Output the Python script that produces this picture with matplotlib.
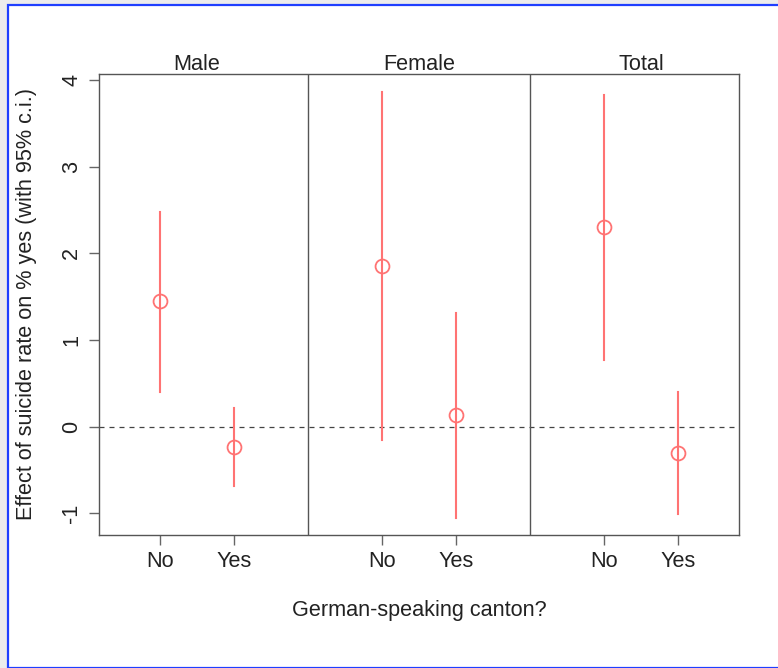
import matplotlib.pyplot as plt
from matplotlib.patches import Rectangle

plt.rcParams['font.family'] = ['Liberation Sans', 'DejaVu Sans']

groups = ['Male', 'Female', 'Total']
cantons = ['No', 'Yes']
x_pos = [1, 2, 4, 5, 7, 8]
estimates = [1.45, -0.23, 1.86, 0.14, 2.30, -0.30]
lower = [0.40, -0.68, -0.15, -1.05, 0.77, -1.01]
upper = [2.48, 0.21, 3.86, 1.31, 3.83, 0.40]
y_ticks = [-1, 0, 1, 2, 3, 4]

red = '#ff7373'
txt = '#222222'
fs = 15.6

fig = plt.figure(figsize=(7.78, 6.68), dpi=100)
fig.patch.set_facecolor('#ececec')
# screenshot frame
fig.patches.append(Rectangle((8 / 778, 0), 1, 1 - 5 / 668, transform=fig.transFigure,
                             facecolor='white', edgecolor='#1f3fff', linewidth=1.6, zorder=-10))

ax = fig.add_axes([99 / 778, 1 - 535 / 668, 640 / 778, 461 / 668])
ax.set_zorder(5)
ax.set_facecolor('white')

# dashed zero line
ax.axhline(0, color='#444444', linestyle=(0, (4, 4)), linewidth=0.9, zorder=1)

# panel dividers
for xd in [3, 6]:
    ax.axvline(xd, color='#555555', linewidth=1.0, zorder=1)

for x, est, lo, hi in zip(x_pos, estimates, lower, upper):
    ax.plot([x, x], [lo, hi], color=red, linewidth=1.5, zorder=2)
    ax.plot(x, est, marker='o', markersize=10, markerfacecolor='none',
            markeredgecolor=red, markeredgewidth=1.3, zorder=3)

for i, g in enumerate(groups):
    ax.annotate(g, xy=(1.5 + 3 * i, 1), xycoords=('data', 'axes fraction'),
                xytext=(0, 3), textcoords='offset points',
                ha='center', va='baseline', fontsize=fs, color=txt)

ax.set_xlim(0.18, 8.82)
ax.set_ylim(-1.25, 4.07)
ax.set_xticks(x_pos)
ax.set_xticklabels(cantons * 3, fontsize=fs, color=txt)
ax.set_yticks(y_ticks)
ax.set_yticklabels([str(t) for t in y_ticks], rotation=90, va='center', fontsize=fs, color=txt)
ax.tick_params(axis='both', length=7.2, width=1, color='#666666')
ax.tick_params(axis='x', pad=4)
ax.tick_params(axis='y', pad=5)
for s in ax.spines.values():
    s.set_color('#555555')
    s.set_linewidth(1.0)

ax.set_xlabel('German-speaking canton?', fontsize=fs, color=txt)
ax.xaxis.set_label_coords(0.5, -0.14)
ax.set_ylabel('Effect of suicide rate on % yes (with 95% c.i.)', fontsize=fs, color=txt)
ax.yaxis.set_label_coords(-0.097, 0.5)

fig.savefig('out.png', dpi=100, facecolor=fig.get_facecolor())
